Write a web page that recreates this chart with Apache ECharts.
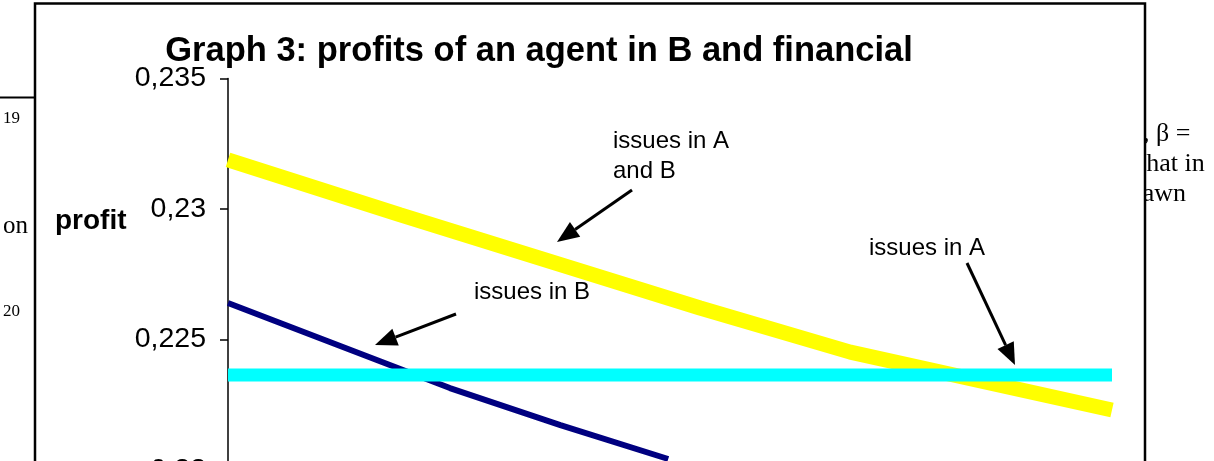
<!DOCTYPE html>
<html>
<head>
<meta charset="utf-8">
<script src="https://cdn.jsdelivr.net/npm/echarts@6/dist/echarts.min.js"></script>
<style>
  html, body { margin: 0; padding: 0; width: 1214px; height: 461px; overflow: hidden; background: #fff; }
  #container { width: 1214px; height: 800px; }
</style>
</head>
<body>
<div id="container"></div>
<script>
// x positions (arbitrary scale 0..100) and profits
var xAB = [0, 19.5, 53.4, 70.4, 100];
var profitAB = [0.23188, 0.22977, 0.22620, 0.22451, 0.22229]; // issues in A and B
var xB = [0, 25.1, 37.6, 49.8];
var profitB = [0.22639, 0.22313, 0.22171, 0.22041]; // issues in B
var xA = [0, 100];
var profitA = [0.22363, 0.22363]; // issues in A
var yTicks = [0.21, 0.235, 0.005]; // min, max, step

function pairs(xs, ys) {
  return xs.map(function (x, i) { return [x, ys[i]]; });
}

function arrow(x1, y1, x2, y2) {
  var dx = x2 - x1, dy = y2 - y1, L = Math.hypot(dx, dy);
  var ux = dx / L, uy = dy / L, hl = 22, hw = 9;
  var bx = x2 - ux * hl, by = y2 - uy * hl;
  return [
    { type: 'line', z: 5, shape: { x1: x1, y1: y1, x2: bx, y2: by }, style: { stroke: '#000', lineWidth: 3 } },
    { type: 'polygon', z: 5, shape: { points: [[x2, y2], [bx - uy * hw, by + ux * hw], [bx + uy * hw, by - ux * hw]] }, style: { fill: '#000' } }
  ];
}

var annFont = '24px "Liberation Sans", Arial, sans-serif';
var docFont = '"Liberation Serif", "Times New Roman", serif';

var dom = document.getElementById('container');
var myChart = echarts.init(dom);

var option = {
  animation: false,
  backgroundColor: '#fff',
  grid: { left: 228, right: 102, top: 78.5, bottom: 69.5 },
  xAxis: { type: 'value', min: 0, max: 100, show: false },
  yAxis: {
    type: 'value',
    min: yTicks[0],
    max: yTicks[1],
    interval: yTicks[2],
    axisLine: { show: true, lineStyle: { color: '#000', width: 1.5 } },
    axisTick: { show: true, inside: false, length: 8, lineStyle: { color: '#000', width: 1.5 } },
    splitLine: { show: false },
    axisLabel: {
      margin: 22,
      color: '#000',
      fontSize: 28.5,
      fontFamily: '"Liberation Sans", Arial, sans-serif',
      formatter: function (v) {
        return v.toFixed(3).replace(/0+$/, '').replace('.', ',');
      }
    }
  },
  series: [
    {
      name: 'issues in A and B', type: 'line', data: pairs(xAB, profitAB),
      showSymbol: false, lineStyle: { color: '#ffff00', width: 15 }, z: 2
    },
    {
      name: 'issues in B', type: 'line', data: pairs(xB, profitB),
      showSymbol: false, lineStyle: { color: '#000080', width: 6 }, z: 3
    },
    {
      name: 'issues in A', type: 'line', data: pairs(xA, profitA),
      showSymbol: false, lineStyle: { color: '#00ffff', width: 13 }, z: 4
    }
  ],
  graphic: [
    // document text behind the chart box
    { type: 'line', z: -2, shape: { x1: 0, y1: 97.5, x2: 36, y2: 97.5 }, style: { stroke: '#000', lineWidth: 2 } },
    { type: 'text', z: -2, x: 3, y: 119, style: { text: '19', font: '17px ' + docFont, fill: '#000', verticalAlign: 'middle' } },
    { type: 'text', z: -2, x: 3, y: 312, style: { text: '20', font: '17px ' + docFont, fill: '#000', verticalAlign: 'middle' } },
    { type: 'text', z: -2, x: 3, y: 226, style: { text: 'on', font: '25px ' + docFont, fill: '#000', verticalAlign: 'middle' } },
    { type: 'text', z: -2, x: 1143, y: 134, style: { text: ', \u03b2 =', font: '26px ' + docFont, fill: '#000', verticalAlign: 'middle' } },
    { type: 'text', z: -2, x: 1139, y: 164, style: { text: 'that in', font: '26px ' + docFont, fill: '#000', verticalAlign: 'middle' } },
    { type: 'text', z: -2, x: 1121, y: 194, style: { text: 'drawn', font: '26px ' + docFont, fill: '#000', verticalAlign: 'middle' } },
    // chart box
    { type: 'rect', z: -1, shape: { x: 35, y: 3.5, width: 1110, height: 900 }, style: { fill: '#fff', stroke: '#000', lineWidth: 2.5 } },
    // title and axis name
    {
      type: 'text', z: 5, x: 539, y: 51,
      style: { text: 'Graph 3: profits of an agent in B and financial', font: 'bold 34.5px "Liberation Sans", Arial, sans-serif', fill: '#000', align: 'center', verticalAlign: 'middle' }
    },
    { type: 'text', z: 5, x: 55, y: 221, style: { text: 'profit', font: 'bold 28px "Liberation Sans", Arial, sans-serif', fill: '#000', verticalAlign: 'middle' } },
    // annotations
    { type: 'text', z: 5, x: 613, y: 141, style: { text: 'issues in A', font: annFont, fill: '#000', verticalAlign: 'middle' } },
    { type: 'text', z: 5, x: 613, y: 171, style: { text: 'and B', font: annFont, fill: '#000', verticalAlign: 'middle' } },
    { type: 'text', z: 5, x: 474, y: 292, style: { text: 'issues in B', font: annFont, fill: '#000', verticalAlign: 'middle' } },
    { type: 'text', z: 5, x: 869, y: 248, style: { text: 'issues in A', font: annFont, fill: '#000', verticalAlign: 'middle' } }
  ].concat(arrow(632, 190, 557, 242), arrow(456, 314, 375, 345), arrow(967, 263, 1015, 365))
};

if (option && typeof option === 'object') {
  myChart.setOption(option);
}
</script>
</body>
</html>
